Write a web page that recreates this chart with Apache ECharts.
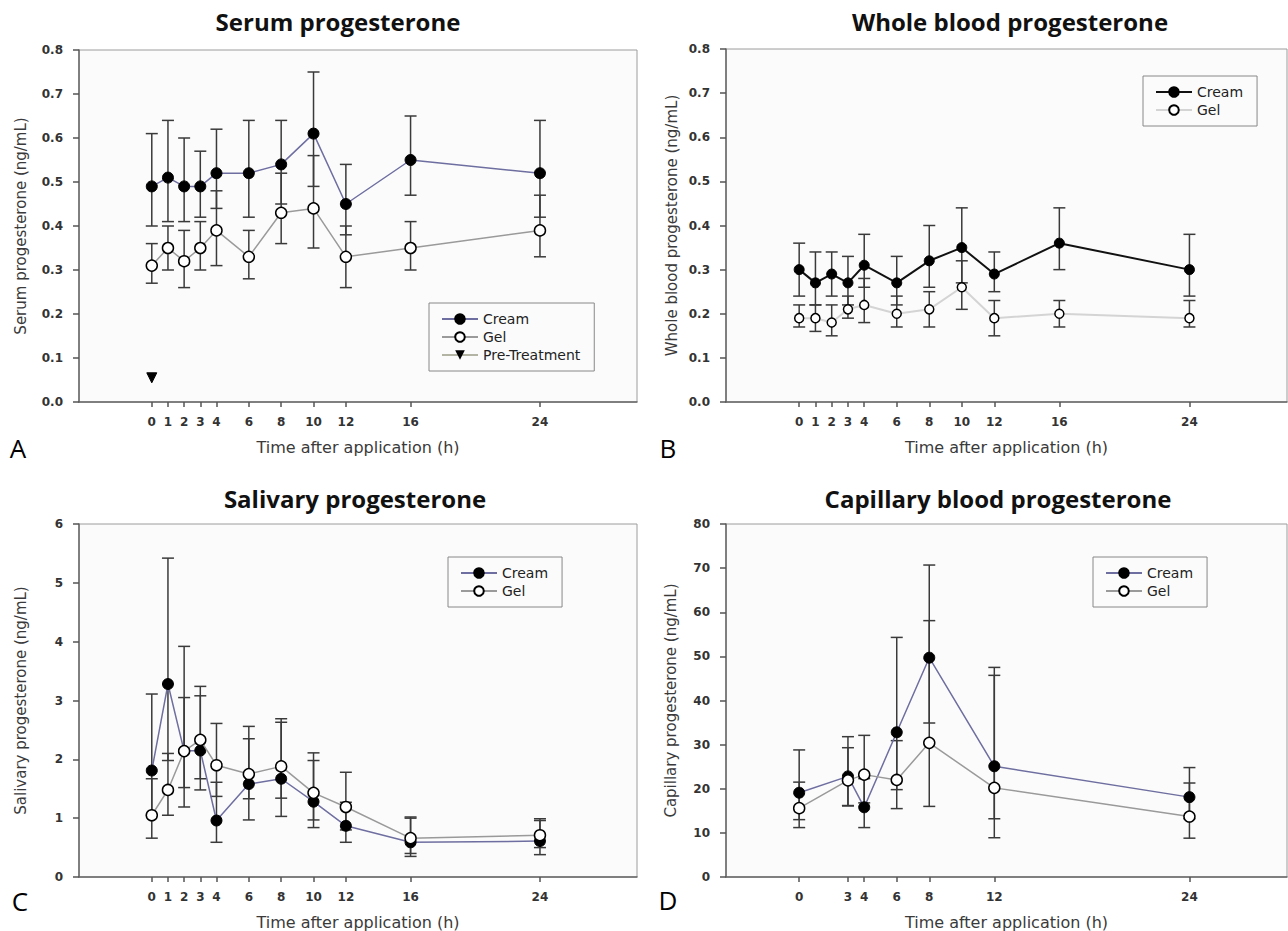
<!DOCTYPE html>
<html>
<head>
<meta charset="utf-8">
<script src="https://cdn.jsdelivr.net/npm/echarts@6/dist/echarts.min.js"></script>
<style>
html,body{margin:0;padding:0;background:#fff;}
#chart{width:1288px;height:931px;}
</style>
</head>
<body>
<div id="chart"></div>
<script>
// ---------- data ----------
const hoursABC = [0, 1, 2, 3, 4, 6, 8, 10, 12, 16, 24];
const hoursD = [0, 3, 4, 6, 8, 12, 24];

// A: Serum progesterone (ng/mL)
const serumCream     = [0.49, 0.51, 0.49, 0.49, 0.52, 0.52, 0.54, 0.61, 0.45, 0.55, 0.52];
const serumCreamLow  = [0.40, 0.41, 0.41, 0.42, 0.44, 0.42, 0.45, 0.49, 0.38, 0.47, 0.42];
const serumCreamHigh = [0.61, 0.64, 0.60, 0.57, 0.62, 0.64, 0.64, 0.75, 0.54, 0.65, 0.64];
const serumGel       = [0.31, 0.35, 0.32, 0.35, 0.39, 0.33, 0.43, 0.44, 0.33, 0.35, 0.39];
const serumGelLow    = [0.27, 0.30, 0.26, 0.30, 0.31, 0.28, 0.36, 0.35, 0.26, 0.30, 0.33];
const serumGelHigh   = [0.36, 0.40, 0.39, 0.41, 0.48, 0.39, 0.52, 0.56, 0.40, 0.41, 0.47];
const serumPreHour   = [0];
const serumPre       = [0.055];

// B: Whole blood progesterone (ng/mL)
const wholeCream     = [0.30, 0.27, 0.29, 0.27, 0.31, 0.27, 0.32, 0.35, 0.29, 0.36, 0.30];
const wholeCreamLow  = [0.24, 0.22, 0.24, 0.22, 0.26, 0.22, 0.26, 0.27, 0.25, 0.30, 0.24];
const wholeCreamHigh = [0.36, 0.34, 0.34, 0.33, 0.38, 0.33, 0.40, 0.44, 0.34, 0.44, 0.38];
const wholeGel       = [0.19, 0.19, 0.18, 0.21, 0.22, 0.20, 0.21, 0.26, 0.19, 0.20, 0.19];
const wholeGelLow    = [0.17, 0.16, 0.15, 0.19, 0.18, 0.17, 0.17, 0.21, 0.15, 0.17, 0.17];
const wholeGelHigh   = [0.22, 0.22, 0.22, 0.24, 0.28, 0.24, 0.25, 0.32, 0.23, 0.23, 0.23];

// C: Salivary progesterone (ng/mL)
const salCream     = [1.81, 3.28, 2.14, 2.15, 0.96, 1.58, 1.67, 1.28, 0.87, 0.59, 0.61];
const salCreamLow  = [1.05, 1.98, 1.19, 1.48, 0.59, 0.97, 1.03, 0.84, 0.59, 0.35, 0.38];
const salCreamHigh = [3.11, 5.42, 3.92, 3.08, 1.61, 2.56, 2.69, 1.98, 1.27, 1.00, 0.96];
const salGel       = [1.05, 1.48, 2.14, 2.33, 1.90, 1.75, 1.88, 1.43, 1.19, 0.66, 0.71];
const salGelLow    = [0.66, 1.05, 1.52, 1.67, 1.37, 1.33, 1.34, 0.97, 0.80, 0.40, 0.50];
const salGelHigh   = [1.67, 2.10, 3.05, 3.24, 2.61, 2.35, 2.63, 2.11, 1.78, 1.02, 0.99];

// D: Capillary blood progesterone (ng/mL)
const capCream     = [19.1, 22.8, 15.8, 32.8, 49.7, 25.1, 18.1];
const capCreamLow  = [13.0, 16.2, 11.2, 19.8, 34.9, 13.2, 13.2];
const capCreamHigh = [28.8, 31.8, 22.3, 54.3, 70.7, 47.5, 24.8];
const capGel       = [15.6, 21.9, 23.2, 22.0, 30.4, 20.2, 13.7];
const capGelLow    = [11.2, 16.1, 16.8, 15.5, 16.0, 8.9, 8.8];
const capGelHigh   = [21.5, 29.3, 32.1, 30.9, 58.1, 45.7, 21.3];

const titles = ['Serum progesterone', 'Whole blood progesterone', 'Salivary progesterone', 'Capillary blood progesterone'];
const yNames = ['Serum progesterone (ng/mL)', 'Whole blood progesterone (ng/mL)', 'Salivary progesterone (ng/mL)', 'Capillary progesterone (ng/mL)'];
const xName = 'Time after application (h)';
const panelLetters = ['A', 'B', 'C', 'D'];

// ---------- helpers ----------
const zip = (xs, ys) => xs.map((x, i) => [x, ys[i]]);
const zip3 = (xs, lo, hi) => xs.map((x, i) => [x, lo[i], hi[i]]);

const TICK_FONT = 'DejaVu Sans';
const grids = [
  {left: 79, top: 50, width: 558, height: 352},
  {left: 726, top: 49, width: 561, height: 353},
  {left: 79, top: 524, width: 558, height: 353},
  {left: 726, top: 524, width: 561, height: 353}
];
const yCfg = [
  {min: 0, max: 0.8, interval: 0.1, dec: 1, gap: 51},
  {min: 0, max: 0.8, interval: 0.1, dec: 1, gap: 47},
  {min: 0, max: 6, interval: 1, dec: 0, gap: 51},
  {min: 0, max: 80, interval: 10, dec: 0, gap: 48}
];
const xTicks = [hoursABC, hoursABC, hoursABC, hoursD];

const option = {
  animation: false,
  backgroundColor: '#ffffff',
  grid: grids.map(g => Object.assign({show: true, borderColor: '#9c9c9c', borderWidth: 1, backgroundColor: '#fbfbfb'}, g)),
  xAxis: grids.map((g, i) => ({
    gridIndex: i, type: 'value', min: -4.5, max: 30,
    name: xName, nameLocation: 'middle', nameGap: 37,
    nameTextStyle: {fontFamily: TICK_FONT, fontSize: 16, color: '#3a3a3a'},
    axisLine: {show: true, onZero: false, lineStyle: {color: '#666', width: 1.5}},
    axisTick: {show: true, customValues: xTicks[i], length: 5, lineStyle: {color: '#555', width: 1.5}},
    axisLabel: {customValues: xTicks[i], margin: 14, fontFamily: TICK_FONT, fontWeight: 'bold', fontSize: 12, color: '#333'},
    splitLine: {show: false}
  })),
  yAxis: grids.map((g, i) => ({
    gridIndex: i, type: 'value', min: yCfg[i].min, max: yCfg[i].max, interval: yCfg[i].interval,
    name: yNames[i], nameLocation: 'middle', nameGap: yCfg[i].gap,
    nameTextStyle: {fontFamily: TICK_FONT, fontSize: 15, color: '#3a3a3a'},
    axisLine: {show: true, onZero: false, lineStyle: {color: '#666', width: 1.5}},
    axisTick: {show: true, length: 6, lineStyle: {color: '#555', width: 1.5}},
    axisLabel: {margin: 16, fontFamily: TICK_FONT, fontWeight: 'bold', fontSize: 12, color: '#333',
      formatter: v => v.toFixed(yCfg[i].dec)},
    splitLine: {show: false}
  })),
  legend: [
    {data: ['Cream|A', 'Gel|A', 'Pre-Treatment|A'], left: 429, top: 303},
    {data: ['Cream|B', 'Gel|B'], left: 1143, top: 76},
    {data: ['Cream|C', 'Gel|C'], left: 448, top: 557},
    {data: ['Cream|D', 'Gel|D'], left: 1093, top: 557}
  ].map(l => Object.assign({
    orient: 'vertical', padding: [9, 14, 9, 12], itemWidth: 36, itemHeight: 12, itemGap: 4,
    borderColor: '#888', borderWidth: 1, backgroundColor: 'transparent', selectedMode: false,
    formatter: n => n.split('|')[0],
    textStyle: {fontFamily: TICK_FONT, fontSize: 14, color: '#222'}
  }, l)),
  graphic: [],
  series: []
};

// titles & panel letters
const titlePos = [[338, 21], [1010, 21], [355, 498], [998, 498]];
const letterPos = [[18, 448], [668, 448], [20, 901], [668, 900]];
titles.forEach((t, i) => {
  option.graphic.push({type: 'text', x: titlePos[i][0], y: titlePos[i][1],
    style: {text: t, align: 'center', verticalAlign: 'middle', fontFamily: 'Open Sans', fontWeight: 'bold', fontSize: 24, fill: '#111'}});
  option.graphic.push({type: 'text', x: letterPos[i][0], y: letterPos[i][1],
    style: {text: panelLetters[i], align: 'center', verticalAlign: 'middle', fontFamily: 'Open Sans', fontSize: 26, fill: '#000'}});
});

function errorSeries(idx, data) {
  return {
    type: 'custom', xAxisIndex: idx, yAxisIndex: idx, z: 2, silent: true,
    data: data,
    renderItem: function (params, api) {
      const x = api.value(0);
      const pHi = api.coord([x, api.value(2)]);
      const pLo = api.coord([x, api.value(1)]);
      const w = 6;
      const st = {stroke: '#3a3a3a', lineWidth: 1.5};
      return {type: 'group', children: [
        {type: 'line', shape: {x1: pHi[0], y1: pHi[1], x2: pLo[0], y2: pLo[1]}, style: st},
        {type: 'line', shape: {x1: pHi[0] - w, y1: pHi[1], x2: pHi[0] + w, y2: pHi[1]}, style: st},
        {type: 'line', shape: {x1: pLo[0] - w, y1: pLo[1], x2: pLo[0] + w, y2: pLo[1]}, style: st}
      ]};
    }
  };
}
function lineSeries(idx, name, data, filled, lineColor, lineWidth, size, z) {
  return {
    type: 'line', name: name, xAxisIndex: idx, yAxisIndex: idx, z: z,
    data: data, symbol: 'circle', symbolSize: size, showSymbol: true,
    lineStyle: {color: lineColor, width: lineWidth},
    itemStyle: filled ? {color: '#000', borderColor: '#000', borderWidth: 1}
                      : {color: '#fff', borderColor: '#000', borderWidth: 1.5},
    emphasis: {disabled: true}
  };
}
const CREAM_COLOR = '#6e6ea0';
const GEL_COLOR = '#9a9a9a';

const panels = [
  {h: hoursABC, c: serumCream, cl: serumCreamLow, ch: serumCreamHigh, g: serumGel, gl: serumGelLow, gh: serumGelHigh, cc: CREAM_COLOR, gc: GEL_COLOR, lw: 1.5, cs: 11, gs: 11},
  {h: hoursABC, c: wholeCream, cl: wholeCreamLow, ch: wholeCreamHigh, g: wholeGel, gl: wholeGelLow, gh: wholeGelHigh, cc: '#111', gc: '#d4d4d4', lw: 2, cs: 10, gs: 9},
  {h: hoursABC, c: salCream, cl: salCreamLow, ch: salCreamHigh, g: salGel, gl: salGelLow, gh: salGelHigh, cc: CREAM_COLOR, gc: GEL_COLOR, lw: 1.5, cs: 11, gs: 11},
  {h: hoursD, c: capCream, cl: capCreamLow, ch: capCreamHigh, g: capGel, gl: capGelLow, gh: capGelHigh, cc: CREAM_COLOR, gc: GEL_COLOR, lw: 1.5, cs: 11, gs: 11}
];
panels.forEach((p, i) => {
  const L = panelLetters[i];
  option.series.push(errorSeries(i, zip3(p.h, p.cl, p.ch)));
  option.series.push(errorSeries(i, zip3(p.h, p.gl, p.gh)));
  option.series.push(lineSeries(i, 'Cream|' + L, zip(p.h, p.c), true, p.cc, p.lw, p.cs, 3));
  option.series.push(lineSeries(i, 'Gel|' + L, zip(p.h, p.g), false, p.gc, p.lw, p.gs, 4));
});
option.series.push({
  type: 'line', name: 'Pre-Treatment|A', xAxisIndex: 0, yAxisIndex: 0, z: 4,
  data: zip(serumPreHour, serumPre), symbol: 'triangle', symbolRotate: 180, symbolSize: 10,
  lineStyle: {color: '#b4b4a4', width: 1.5},
  itemStyle: {color: '#000', borderColor: '#000'}, emphasis: {disabled: true}
});

const chart = echarts.init(document.getElementById('chart'), null, {renderer: 'svg'});
chart.setOption(option);
</script>
</body>
</html>
